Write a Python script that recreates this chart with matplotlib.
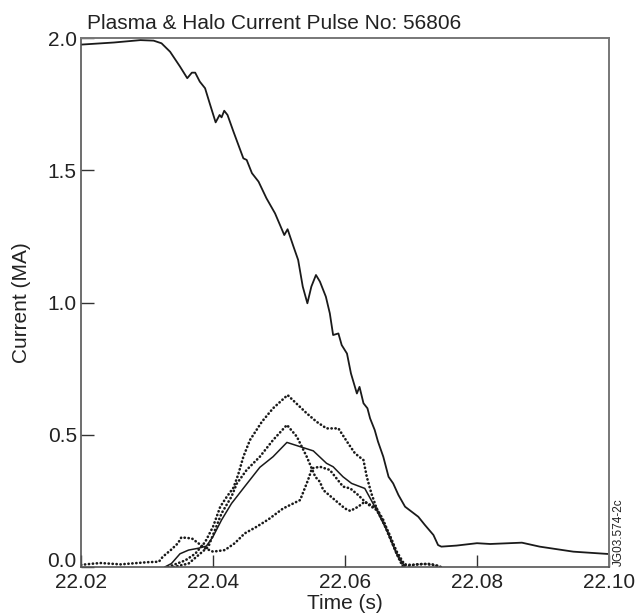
import matplotlib
matplotlib.use("Agg")
import matplotlib.pyplot as plt

plt.rcParams['font.family'] = ['Liberation Sans', 'DejaVu Sans']

# Plasma current (MA)
plasma_t = [22.0200, 22.0250, 22.0290, 22.0310, 22.0322, 22.0335, 22.0350, 22.0361,
            22.0368, 22.0373, 22.0380, 22.0388, 22.0395, 22.0404, 22.0410, 22.0413,
            22.0417, 22.0422, 22.0431, 22.0446, 22.0451, 22.0459, 22.0469, 22.0481,
            22.0494, 22.0508, 22.0513, 22.0522, 22.0529, 22.0536, 22.0543, 22.0549,
            22.0556, 22.0562, 22.0571, 22.0577, 22.0582, 22.0590, 22.0595, 22.0603,
            22.0609, 22.0618, 22.0622, 22.0628, 22.0634, 22.0638, 22.0645, 22.0650,
            22.0658, 22.0666, 22.0673, 22.0681, 22.0691, 22.0701, 22.0711, 22.0721,
            22.0734, 22.0741, 22.0746, 22.0769, 22.0800, 22.0820, 22.0868, 22.0895,
            22.0946, 22.1000]
plasma_i = [1.975, 1.983, 1.992, 1.990, 1.980, 1.948, 1.892, 1.848,
            1.869, 1.869, 1.835, 1.810, 1.753, 1.681, 1.709, 1.700,
            1.725, 1.709, 1.646, 1.545, 1.539, 1.489, 1.457, 1.394,
            1.337, 1.255, 1.277, 1.211, 1.161, 1.060, 0.997, 1.060,
            1.104, 1.079, 1.022, 0.959, 0.877, 0.883, 0.839, 0.807,
            0.732, 0.656, 0.681, 0.619, 0.600, 0.562, 0.518, 0.474,
            0.417, 0.341, 0.316, 0.272, 0.228, 0.209, 0.190, 0.159,
            0.121, 0.083, 0.077, 0.081, 0.090, 0.087, 0.092, 0.077,
            0.058, 0.049]

# Halo current, solid trace
halo_t = [22.0327, 22.0337, 22.0350, 22.0363, 22.0378, 22.0390, 22.0400, 22.0413,
          22.0428, 22.0448, 22.0471, 22.0491, 22.0512, 22.0552, 22.0572, 22.0582,
          22.0597, 22.0610, 22.0630, 22.0648, 22.0663, 22.0678, 22.0691]
halo_i = [0.0, 0.013, 0.050, 0.064, 0.071, 0.079, 0.115, 0.178,
          0.240, 0.304, 0.377, 0.417, 0.471, 0.439, 0.392, 0.379,
          0.341, 0.316, 0.297, 0.215, 0.140, 0.052, 0.0]

# Halo current, dotted trace A (highest peak)
halo_a_t = [22.0332, 22.0358, 22.0373, 22.0388, 22.0400, 22.0411, 22.0421, 22.0431,
            22.0438, 22.0446, 22.0456, 22.0474, 22.0491, 22.0513, 22.0542, 22.0557,
            22.0572, 22.0590, 22.0603, 22.0615, 22.0628, 22.0633, 22.0640, 22.0648,
            22.0658, 22.0668, 22.0678, 22.0686, 22.0695, 22.0710, 22.0730, 22.0745]
halo_a_i = [0.0, 0.025, 0.050, 0.094, 0.152, 0.228, 0.266, 0.300,
            0.348, 0.417, 0.480, 0.549, 0.600, 0.650, 0.581, 0.549,
            0.524, 0.524, 0.474, 0.430, 0.404, 0.341, 0.278, 0.221,
            0.178, 0.115, 0.052, 0.014, 0.004, 0.010, 0.012, 0.0]

# Halo current, dotted trace B
halo_b_t = [22.0340, 22.0363, 22.0378, 22.0393, 22.0403, 22.0413, 22.0428, 22.0436,
            22.0451, 22.0471, 22.0491, 22.0512, 22.0527, 22.0542, 22.0555, 22.0562,
            22.0567, 22.0582, 22.0600, 22.0608, 22.0620, 22.0630, 22.0648, 22.0658,
            22.0668, 22.0680, 22.0688]
halo_b_i = [0.0, 0.013, 0.045, 0.077, 0.140, 0.203, 0.266, 0.315,
            0.367, 0.417, 0.480, 0.537, 0.493, 0.417, 0.341, 0.322,
            0.291, 0.259, 0.221, 0.212, 0.228, 0.247, 0.221, 0.170,
            0.110, 0.040, 0.0]

# Halo current, dotted trace D (early bump)
halo_d_t = [22.0200, 22.0215, 22.0230, 22.0260, 22.0300, 22.0318, 22.0324, 22.0336,
            22.0347, 22.0352, 22.0368, 22.0388, 22.0400, 22.0418, 22.0433, 22.0448,
            22.0466, 22.0484, 22.0506, 22.0532, 22.0544, 22.0550, 22.0562, 22.0577,
            22.0597, 22.0608, 22.0620, 22.0633, 22.0648, 22.0658, 22.0668, 22.0678,
            22.0690, 22.0700, 22.0720, 22.0740, 22.0745]
halo_d_i = [0.008, 0.012, 0.015, 0.010, 0.018, 0.020, 0.039, 0.064,
            0.090, 0.112, 0.108, 0.071, 0.058, 0.064, 0.090, 0.127,
            0.152, 0.180, 0.221, 0.253, 0.329, 0.373, 0.379, 0.367,
            0.304, 0.297, 0.272, 0.240, 0.215, 0.170, 0.120, 0.060,
            0.010, 0.008, 0.012, 0.005, 0.0]

x_ticks = [22.02, 22.04, 22.06, 22.08, 22.10]
x_ticklabels = ["22.02", "22.04", "22.06", "22.08", "22.10"]
y_ticks = [0.0, 0.5, 1.0, 1.5, 2.0]
y_ticklabels = ["0.0", "0.5", "1.0", "1.5", "2.0"]

fig = plt.figure(figsize=(6.38, 6.16), dpi=100)
ax = fig.add_axes([81/638, 1-567/616, 528/638, 529/616])

ax.plot(plasma_t, plasma_i, color='#1a1a1a', lw=1.3)
ax.plot(halo_t, halo_i, color='#1a1a1a', lw=1.1)
dot = dict(color='#1a1a1a', lw=1.9, linestyle=(0, (0.1, 1.4)), dash_capstyle='round')
ax.plot(halo_a_t, halo_a_i, **dot)
ax.plot(halo_b_t, halo_b_i, **dot)
ax.plot(halo_d_t, halo_d_i, **dot)

ax.set_xlim(22.02, 22.10)
ax.set_ylim(0.0, 2.0)
ax.set_xticks(x_ticks)
ax.set_xticklabels(x_ticklabels)
ax.set_yticks(y_ticks)
ax.set_yticklabels(y_ticklabels)
ax.tick_params(direction='in', length=9, width=1.0, colors='#333333', labelsize=15,
               labelcolor='#222222', pad=3)
ax.tick_params(axis='x', pad=4)
ax.get_yticklabels()[0].set_verticalalignment('baseline')
for s in ['left', 'bottom']:
    ax.spines[s].set_color('#555555')
    ax.spines[s].set_linewidth(1.2)
for s in ['top', 'right']:
    ax.spines[s].set_color('#777777')
    ax.spines[s].set_linewidth(1.4)

ax.set_xlabel("Time (s)", fontsize=15, color='#222222', labelpad=2)
ax.set_ylabel("Current (MA)", fontsize=15, color='#222222', labelpad=12)

fig.text(87/638, 1-29/616, "Plasma & Halo Current Pulse No: 56806", fontsize=15,
         color='#222222', ha='left', va='baseline')
fig.text(619/638, 1-532/616, "JG03.574-2c", fontsize=8.5, color='#222222',
         rotation=90, ha='center', va='center')

fig.savefig("out.png", dpi=100)
